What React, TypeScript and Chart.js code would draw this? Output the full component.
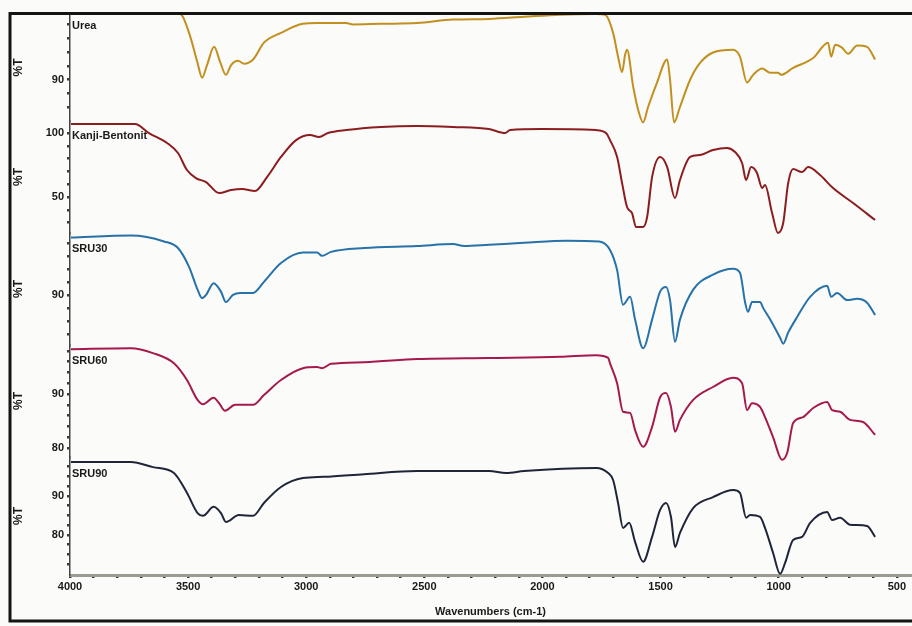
import React, { useEffect, useRef } from "react";
import { Chart, registerables } from "chart.js";

Chart.register(...registerables);

// ---------- data (wavenumber cm-1, %T) ----------
const wnUrea = [3996, 3534, 3496, 3460, 3441, 3420, 3390, 3365, 3340, 3318, 3289, 3263, 3225, 3179, 3107, 3014, 2954, 2831, 2802, 2683, 2531, 2379, 2226, 2078, 1925, 1773, 1735, 1701, 1680, 1663, 1650, 1642, 1616, 1595, 1574, 1553, 1515, 1472, 1460, 1443, 1418, 1375, 1333, 1278, 1193, 1164, 1134, 1108, 1070, 1036, 1003, 990, 939, 854, 791, 778, 761, 732, 706, 668, 626, 592];
const tUrea = [99.4, 99.4, 96.7, 92.4, 90.3, 92.1, 94.7, 92.6, 90.7, 92.1, 92.7, 92.3, 92.9, 95.3, 96.7, 98.0, 98.1, 98.1, 97.9, 98.0, 98.1, 98.6, 98.7, 99.0, 99.3, 99.4, 99.3, 96.7, 93.3, 91.1, 93.6, 94.3, 89.0, 85.7, 83.9, 86.1, 89.6, 92.9, 90.0, 83.9, 86.1, 90.0, 92.4, 93.9, 94.3, 93.3, 89.6, 90.7, 91.6, 91.0, 91.0, 90.7, 91.7, 93.1, 95.3, 93.3, 95.0, 94.6, 93.7, 94.9, 94.7, 92.9];

const wnKanji = [3996, 3725, 3666, 3589, 3543, 3505, 3467, 3424, 3369, 3318, 3272, 3217, 3166, 3107, 3043, 2984, 2946, 2908, 2831, 2683, 2531, 2379, 2226, 2158, 2137, 2002, 1773, 1731, 1714, 1684, 1663, 1642, 1621, 1604, 1574, 1557, 1536, 1502, 1472, 1439, 1418, 1375, 1333, 1278, 1219, 1185, 1155, 1138, 1117, 1092, 1070, 1058, 1028, 1003, 981, 960, 939, 901, 876, 825, 770, 685, 592];
const tKanji = [107.0, 107.0, 100.0, 92.2, 84.4, 71.1, 64.8, 61.7, 53.1, 55.5, 56.3, 54.7, 65.6, 81.3, 94.5, 98.4, 96.9, 100.0, 102.3, 104.7, 105.5, 104.7, 103.1, 100.0, 102.3, 103.1, 102.3, 100.0, 94.5, 81.3, 60.9, 42.2, 37.5, 26.6, 26.6, 34.4, 65.6, 81.3, 73.4, 49.2, 63.3, 81.3, 82.8, 86.7, 88.3, 85.2, 76.6, 63.3, 73.4, 68.8, 57.0, 59.4, 37.5, 21.9, 29.7, 60.9, 71.9, 69.5, 73.4, 67.2, 57.0, 45.3, 32.0];

const wnSRU30 = [3996, 3742, 3602, 3543, 3496, 3460, 3441, 3424, 3392, 3361, 3340, 3310, 3280, 3225, 3179, 3107, 3014, 2954, 2933, 2895, 2755, 2531, 2379, 2332, 2226, 2078, 1896, 1760, 1714, 1684, 1659, 1629, 1608, 1574, 1536, 1502, 1477, 1460, 1439, 1418, 1362, 1278, 1193, 1164, 1142, 1130, 1113, 1079, 1066, 1036, 994, 981, 960, 922, 867, 795, 778, 753, 710, 668, 626, 592];
const tSRU30 = [98.8, 99.1, 98.2, 97.2, 94.3, 90.8, 89.5, 90.0, 91.8, 90.5, 88.9, 90.0, 90.3, 90.3, 92.0, 94.9, 96.5, 96.5, 96.0, 96.6, 97.2, 97.5, 97.8, 97.5, 97.7, 98.0, 98.3, 98.2, 96.9, 93.8, 88.5, 89.7, 86.2, 81.8, 86.2, 90.5, 91.2, 89.2, 82.8, 86.2, 90.8, 93.1, 94.0, 93.4, 88.8, 87.4, 88.9, 88.9, 88.0, 86.2, 83.4, 82.5, 84.2, 86.6, 89.7, 91.4, 89.7, 90.3, 89.2, 89.4, 88.8, 86.9];

const wnSRU60 = [3996, 3742, 3649, 3560, 3505, 3460, 3437, 3392, 3369, 3344, 3301, 3225, 3179, 3107, 3014, 2954, 2933, 2895, 2755, 2531, 2226, 1925, 1773, 1722, 1714, 1684, 1659, 1629, 1608, 1574, 1536, 1502, 1477, 1456, 1439, 1418, 1362, 1278, 1193, 1155, 1134, 1113, 1079, 1058, 1024, 986, 964, 939, 897, 854, 795, 774, 740, 698, 643, 592];
const tSRU60 = [98.3, 98.5, 97.6, 95.7, 92.6, 88.9, 88.1, 89.3, 88.3, 86.9, 88.0, 88.0, 89.8, 92.6, 94.8, 95.0, 94.8, 95.6, 95.9, 96.5, 96.7, 96.9, 97.2, 96.7, 95.7, 92.0, 86.7, 86.5, 83.3, 80.2, 83.9, 89.4, 90.2, 87.6, 83.0, 85.2, 88.9, 91.3, 93.0, 92.0, 87.0, 88.3, 87.6, 85.7, 82.0, 77.8, 79.1, 84.6, 85.7, 87.4, 88.5, 87.0, 86.7, 85.2, 84.8, 82.4];

const wnSRU90 = [3996, 3742, 3649, 3560, 3505, 3460, 3437, 3392, 3361, 3340, 3285, 3225, 3179, 3107, 3014, 2925, 2755, 2531, 2226, 2154, 2078, 1773, 1722, 1701, 1680, 1659, 1633, 1608, 1574, 1536, 1502, 1477, 1456, 1439, 1418, 1362, 1278, 1193, 1164, 1138, 1121, 1079, 1058, 1024, 994, 973, 939, 901, 867, 795, 774, 740, 698, 626, 592];
const tSRU90 = [98.7, 98.7, 97.4, 95.9, 90.8, 85.6, 84.9, 87.2, 85.6, 83.3, 85.1, 84.9, 88.2, 92.3, 94.6, 94.9, 95.6, 96.4, 96.4, 95.9, 96.4, 97.2, 95.9, 94.1, 88.2, 81.8, 83.1, 78.2, 73.1, 79.5, 86.4, 88.2, 84.6, 76.9, 80.5, 86.9, 89.7, 91.5, 90.8, 84.4, 85.1, 84.6, 81.8, 75.4, 70.0, 72.8, 78.7, 79.5, 83.1, 85.9, 83.8, 84.4, 82.6, 82.3, 79.5];

// ---------- panels ----------
const panelNames = ["Urea", "Kanji-Bentonit", "SRU30", "SRU60", "SRU90"];
const panelWn = [wnUrea, wnKanji, wnSRU30, wnSRU60, wnSRU90];
const panelT = [tUrea, tKanji, tSRU30, tSRU60, tSRU90];
const panelLabelTicks = [[90], [50, 100], [90], [80, 90], [80, 90]];
const panelMinorTicks = [
  [86, 88, 90, 92, 94, 96, 98],
  [30, 40, 50, 60, 70, 80, 90, 100],
  [84, 86, 88, 90, 92, 94, 96, 98],
  [80, 82, 84, 86, 88, 90, 92, 94, 96, 98],
  [72.5, 75, 77.5, 80, 82.5, 85, 87.5, 90, 92.5, 95, 97.5],
];
const panelMin = [84.1, 21.9, 82.3, 78.3, 69.7];
const panelMax = [99.4, 109.4, 99.5, 99.1, 100];

const xLabelTicks = [4000, 3500, 3000, 2500, 2000, 1500, 1000, 500];
const xMinorTicks = [500, 600, 700, 800, 900, 1000, 1100, 1200, 1300, 1400, 1500, 1600, 1700, 1800, 1900, 2000, 2100, 2200, 2300, 2400, 2500, 2600, 2700, 2800, 2900, 3000, 3100, 3200, 3300, 3400, 3500, 3600, 3700, 3800, 3900, 4000];

// ---------- styles ----------
const panelColors = ["#c1901f", "#8c1d1f", "#2672a9", "#a5194d", "#1f2539"];
const panelHeights = [107, 112, 112, 112, 118];
const FONT = "'Liberation Sans', Arial, sans-serif";

const decorPlugin = {
  id: "decor",
  beforeDraw(chart: any) {
    const { ctx, width, height } = chart;
    ctx.save();
    ctx.fillStyle = "#fbfbf9";
    ctx.fillRect(0, 0, width, height);
    ctx.restore();
  },
  afterDatasetsDraw(chart: any) {
    const { ctx, chartArea } = chart;
    ctx.save();
    ctx.font = "bold 11px " + FONT;
    ctx.fillStyle = "#1a1a1a";
    ctx.textBaseline = "top";
    ctx.textAlign = "left";
    chart.data.datasets.forEach((_ds: any, i: number) => {
      const meta = chart.getDatasetMeta(i);
      const p = meta.data[0];
      if (p) ctx.fillText(panelNames[i], chartArea.left + 2, p.y + 6);
    });
    ctx.restore();
  },
  afterDraw(chart: any) {
    const { ctx, chartArea, width, height } = chart;
    ctx.save();
    ctx.strokeStyle = "#141414";
    ctx.lineWidth = 3;
    const left = chartArea.left - 60;
    const top = chartArea.top - 0.5;
    const bottom = height - 5;
    ctx.beginPath();
    ctx.moveTo(width, top);
    ctx.lineTo(left, top);
    ctx.lineTo(left, bottom);
    ctx.lineTo(width, bottom);
    ctx.stroke();
    ctx.restore();
  },
};

export default function App() {
  const ref = useRef<HTMLCanvasElement | null>(null);

  useEffect(() => {
    if (!ref.current) return;
    Chart.defaults.font.family = FONT;

    const scales: any = {
      x: {
        type: "linear",
        reverse: true,
        min: 440,
        max: 4000,
        afterBuildTicks: (s: any) => {
          s.ticks = xMinorTicks.map((v) => ({ value: v }));
        },
        afterFit: (s: any) => {
          s.height = 45;
        },
        ticks: {
          autoSkip: false,
          maxRotation: 0,
          padding: 2,
          color: "#1a1a1a",
          font: { size: 11, weight: "bold" },
          callback: (v: any) => (xLabelTicks.includes(v) ? String(v) : ""),
        },
        grid: { drawOnChartArea: false, tickLength: 3, lineWidth: 2.5, color: "#333" },
        border: { display: true, color: "#9b9b92", width: 3 },
        title: {
          display: true,
          text: "Wavenumbers (cm-1)",
          color: "#1a1a1a",
          font: { size: 11, weight: "bold" },
          padding: { top: 0, bottom: 1 },
        },
      },
    };

    panelNames.forEach((_n, i) => {
      scales["y" + i] = {
        type: "linear",
        position: "left",
        stack: "ftir",
        stackWeight: panelHeights[i],
        weight: panelNames.length - i,
        min: panelMin[i],
        max: panelMax[i],
        afterBuildTicks: (s: any) => {
          s.ticks = panelMinorTicks[i].map((v) => ({ value: v }));
        },
        afterFit: (s: any) => {
          s.width = 62;
        },
        ticks: {
          autoSkip: false,
          padding: 3,
          color: "#1a1a1a",
          font: { size: 11, weight: "bold" },
          callback: (v: any) => (panelLabelTicks[i].includes(v) ? String(v) : ""),
        },
        grid: { drawOnChartArea: false, tickLength: 3, lineWidth: 2.5, color: "#3a3a3a" },
        border: { display: true, color: "#444", width: 1.5 },
        title: {
          display: true,
          text: "%T",
          color: "#1a1a1a",
          font: { size: 12, weight: "bold" },
          padding: { top: 3, bottom: 0 },
        },
      };
    });

    const datasets = panelNames.map((name, i) => ({
      label: name,
      data: panelWn[i].map((w, j) => ({ x: w, y: panelT[i][j] })),
      yAxisID: "y" + i,
      borderColor: panelColors[i],
      borderWidth: 2,
      pointRadius: 0,
      fill: false,
      clip: false as any,
      cubicInterpolationMode: "monotone" as const,
    }));

    const chart = new Chart(ref.current, {
      type: "line",
      data: { datasets },
      options: {
        animation: false,
        responsive: false,
        maintainAspectRatio: false,
        parsing: false as any,
        layout: { padding: { left: 8, top: 14, right: 1, bottom: 6 } },
        plugins: { legend: { display: false }, tooltip: { enabled: false } },
        scales,
      },
      plugins: [decorPlugin],
    });
    return () => chart.destroy();
  }, []);

  return (
    <div style={{ position: "absolute", left: 0, top: 0, width: 912, height: 626 }}>
      <canvas ref={ref} width={912} height={626} />
    </div>
  );
}
